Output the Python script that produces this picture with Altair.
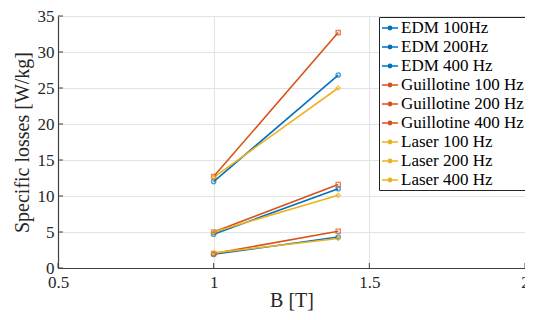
import altair as alt
import pandas as pd

B = [1.0, 1.4]
series = ["EDM 100Hz", "EDM 200Hz", "EDM 400 Hz",
          "Guillotine 100 Hz", "Guillotine 200 Hz", "Guillotine 400 Hz",
          "Laser 100 Hz", "Laser 200 Hz", "Laser 400 Hz"]
method = ["EDM"] * 3 + ["Guillotine"] * 3 + ["Laser"] * 3
loss_at_1 = [1.9, 4.7, 12.0, 2.0, 5.0, 12.7, 2.1, 5.0, 12.6]
loss_at_14 = [4.3, 11.0, 26.8, 5.1, 11.6, 32.7, 4.1, 10.1, 25.0]
colors = ["#0072BD"] * 3 + ["#D95319"] * 3 + ["#EDB120"] * 3
x_ticks = [0.5, 1, 1.5, 2]
y_ticks = [0, 5, 10, 15, 20, 25, 30, 35]

rows = []
for s, m, a, b in zip(series, method, loss_at_1, loss_at_14):
    rows.append({"series": s, "method": m, "B": B[0], "loss": a})
    rows.append({"series": s, "method": m, "B": B[1], "loss": b})
df = pd.DataFrame(rows)

FONT = "Liberation Serif"
XT = "B [T]"
YT = "Specific losses [W/kg]"
xscale = alt.Scale(domain=[0.5, 2], nice=False)
yscale = alt.Scale(domain=[0, 35], nice=False)
xaxis = alt.Axis(values=x_ticks, format="~g", labelFlush=False, labelOverlap=False)
yaxis = alt.Axis(values=y_ticks, labelFlush=False, labelOverlap=False)

x = alt.X("B:Q", title=XT, scale=xscale, axis=xaxis)
y = alt.Y("loss:Q", title=YT, scale=yscale, axis=yaxis)
color = alt.Color("series:N", scale=alt.Scale(domain=series, range=colors),
                  sort=series,
                  legend=alt.Legend(title=None, orient="none", legendX=321, legendY=1,
                                    symbolType="M-1,0H1M-0.2,0A0.2,0.2,0,1,1,0.2,0A0.2,0.2,0,1,1,-0.2,0",
                                    symbolSize=256, symbolStrokeWidth=1.6,
                                    labelFont=FONT, labelFontSize=17, labelColor="#000",
                                    strokeColor="#222", fillColor="white", padding=2,
                                    rowPadding=2, labelOffset=2, labelLimit=300))

lines = alt.Chart(df).mark_line(strokeWidth=1.6).encode(x=x, y=y, color=color, detail="series:N")
points = alt.Chart(df).mark_point(size=18, strokeWidth=1.4, filled=False).encode(
    x=x, y=y,
    color=alt.Color("series:N", scale=alt.Scale(domain=series, range=colors), legend=None),
    shape=alt.Shape("method:N", scale=alt.Scale(domain=["EDM", "Guillotine", "Laser"],
                                                range=["circle", "square", "diamond"]), legend=None))

xt = pd.DataFrame({"t": x_ticks})
yt = pd.DataFrame({"t": y_ticks})
xticks = alt.Chart(xt).mark_rule(color="#404040", strokeWidth=1).encode(
    x=alt.X("t:Q", title=XT, scale=xscale, axis=xaxis), y=alt.value(252), y2=alt.value(247))
yticks = alt.Chart(yt).mark_rule(color="#404040", strokeWidth=1).encode(
    y=alt.Y("t:Q", title=YT, scale=yscale, axis=yaxis), x=alt.value(0), x2=alt.value(5))

chart = (lines + points + xticks + yticks).properties(
    width=467, height=252,
    autosize=alt.AutoSizeParams(type="none"),
    padding={"left": 50, "top": 8, "right": 0, "bottom": 44},
).configure_view(stroke=None).configure_axis(
    labelFont=FONT, titleFont=FONT, labelFontSize=17, titleFontSize=20,
    labelColor="#262626", titleColor="#262626", titleFontWeight="normal",
    gridColor="#e3e3e3", domainColor="#404040", ticks=False,
    domainWidth=1.2,
).configure_axisX(titlePadding=0, labelPadding=6).configure_axisY(titlePadding=5, labelPadding=4)

chart.save("out.html", embed_options={"renderer": "svg", "actions": False})
